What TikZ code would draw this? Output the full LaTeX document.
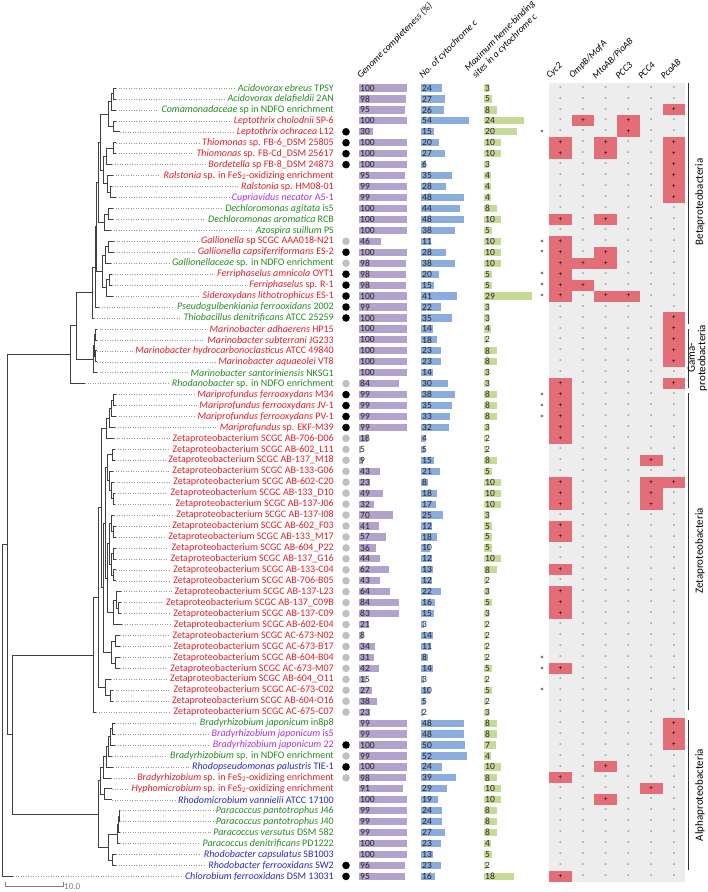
\documentclass[tikz,border=0pt]{standalone}
\usepackage{fontspec}
\setmainfont{Carlito}
\usetikzlibrary{positioning,calc}

\definecolor{tgreen}{RGB}{35,140,35}
\definecolor{tred}{RGB}{225,30,40}
\definecolor{tviolet}{RGB}{175,45,225}
\definecolor{tblue}{RGB}{40,40,205}
\definecolor{barpurple}{RGB}{178,162,206}
\definecolor{barblue}{RGB}{138,172,222}
\definecolor{bargreen}{RGB}{196,218,150}
\definecolor{cellred}{RGB}{228,110,120}
\definecolor{boxgray}{RGB}{237,237,237}
\definecolor{dotgray}{RGB}{192,192,192}

\tikzset{
  branch/.style={draw=black!75, line width=0.7pt},
  leafdot/.style={draw=black!40, dotted, line width=0.5pt},
  taxon/.style={anchor=east, inner sep=0pt, font=\fontsize{10}{10}\selectfont},
  val/.style={anchor=west, inner sep=0pt, font=\fontsize{9.5}{10}\selectfont, text=black!85},
  colhead/.style={anchor=south west, rotate=45, inner sep=0pt, font=\fontsize{9.5}{10.5}\selectfont\itshape},
  sign/.style={inner sep=0pt, font=\fontsize{7}{8}\selectfont},
  grouplab/.style={rotate=90, inner sep=0pt, font=\fontsize{11}{10.5}\selectfont, align=center},
  bracket/.style={draw=black!80, line width=0.7pt},
}

\newcommand\Y[1]{88+(#1-1)*10.95}
% join two subtrees at x, parent placed halfway between them
\newcommand\tjoin[4]{%
  \coordinate (#1m) at ($(#3)!0.5!(#4)$);
  \coordinate (#1x) at (#2,0);
  \coordinate (#1) at (#1m -| #1x);
  \draw[branch] (#3) -| (#4 -| #1) -- (#4);
}

\begin{document}
\begin{tikzpicture}[x=1pt,y=-1pt]
\useasboundingbox (0,0) rectangle (708,892);

% heading
\node[colhead] (hgc) at (362,80) {Genome completeness (\%)};
\node[colhead] (hnc) at (424,80) {No. of cytochrome c};
\node[colhead, align=left] (hmh) at (477,80) {Maximum heme-binding\\sites in a cytochrome c};
\foreach \h [count=\j] in {Cyc2,OmpB/MofA,MtoAB/PioAB,PCC3,PCC4,PcoAB}
  \node[colhead] (hc\j) at ({551+(\j-1)*22.7},80) {\h};

\fill[boxgray] (549,82.5) rectangle (685.2,882);

% rows
\foreach \i/\tp/\nm/\cl/\dt/\ga/\gb/\gc/\st/\mk in {
 1/116/{\textit{Acidovorax ebreus} TPSY}/tgreen/none/100/24/3/0/{0,0,0,0,0,0},
 2/116/{\textit{Acidovorax delafieldii} 2AN}/tgreen/none/98/27/5/0/{0,0,0,0,0,0},
 3/116/{\textit{Comamonadaceae} sp in NDFO enrichment}/tgreen/none/95/26/8/0/{0,0,0,0,0,1},
 4/116/{\textit{Leptothrix cholodnii} SP-6}/tred/none/100/54/24/0/{0,1,0,1,0,0},
 5/120/{\textit{Leptothrix ochracea} L12}/tred/black/30/15/20/1/{0,0,0,1,0,0},
 6/116/{\textit{Thiomonas} sp. FB-6\_DSM 25805}/tred/black/100/20/10/0/{1,0,1,0,0,1},
 7/116/{\textit{Thiomonas} sp. FB-Cd\_DSM 25617}/tred/black/100/27/10/0/{1,0,1,0,0,1},
 8/112/{\textit{Bordetella} sp FB-8\_DSM 24873}/tred/black/100/6/3/0/{0,0,0,0,0,1},
 9/113/{\textit{Ralstonia} sp. in FeS\textsubscript{2}-oxidizing enrichment}/tred/none/95/35/4/0/{0,0,0,0,0,1},
 10/112/{\textit{Ralstonia} sp. HM08-01}/tred/none/99/28/4/0/{0,0,0,0,0,1},
 11/116/{\textit{Cupriavidus necator} A5-1}/tviolet/none/99/48/4/0/{0,0,0,0,0,1},
 12/113/{\textit{Dechloromonas agitata} is5}/tgreen/none/100/44/8/0/{0,0,0,0,0,0},
 13/113/{\textit{Dechloromonas aromatica} RCB}/tgreen/none/100/48/10/0/{1,0,1,0,0,0},
 14/111/{\textit{Azospira suillum} PS}/tgreen/none/100/38/5/0/{0,0,0,0,0,0},
 15/114/{\textit{Gallionella} sp SCGC AAA018-N21}/tred/dotgray/46/11/10/1/{1,0,0,0,0,0},
 16/114/{\textit{Gallionella capsiferriformans} ES-2}/tred/black/100/28/10/1/{1,0,1,0,0,0},
 17/111/{\textit{Gallionellaceae} sp. in NDFO enrichment}/tgreen/dotgray/98/38/10/0/{1,1,1,0,0,0},
 18/112/{\textit{Ferriphaselus amnicola} OYT1}/tred/black/98/20/5/1/{1,0,0,0,0,0},
 19/112/{\textit{Ferriphaselus} sp. R-1}/tred/black/98/15/5/1/{1,1,0,0,0,0},
 20/113/{\textit{Sideroxydans lithotrophicus} ES-1}/tred/black/100/41/29/1/{1,0,1,1,0,0},
 21/99/{\textit{Pseudogulbenkiania ferrooxidans} 2002}/tgreen/black/99/22/3/0/{0,0,0,0,0,0},
 22/94/{\textit{Thiobacillus denitrificans} ATCC 25259}/tgreen/black/100/35/3/0/{0,0,0,0,0,1},
 23/97/{\textit{Marinobacter adhaerens} HP15}/tred/none/100/14/4/0/{0,0,0,0,0,1},
 24/97/{\textit{Marinobacter subterrani} JG233}/tred/none/100/18/2/0/{0,0,0,0,0,1},
 25/97/{\textit{Marinobacter hydrocarbonoclasticus} ATCC 49840}/tred/none/100/23/8/0/{0,0,0,0,0,1},
 26/97/{\textit{Marinobacter aquaeolei} VT8}/tred/none/100/23/8/0/{0,0,0,0,0,1},
 27/97/{\textit{Marinobacter santoriniensis} NKSG1}/tgreen/none/100/14/3/0/{0,0,0,0,0,0},
 28/85/{\textit{Rhodanobacter} sp. in NDFO enrichment}/tgreen/dotgray/84/30/3/0/{1,0,0,0,0,1},
 29/116/{\textit{Mariprofundus ferrooxydans} M34}/tred/black/99/38/8/1/{1,0,0,0,0,0},
 30/116/{\textit{Mariprofundus ferrooxydans} JV-1}/tred/black/99/35/8/1/{1,0,0,0,0,0},
 31/116/{\textit{Mariprofundus ferrooxydans} PV-1}/tred/black/99/33/8/1/{1,0,0,0,0,0},
 32/115/{\textit{Mariprofundus} sp. EKF-M39}/tred/black/99/32/3/0/{1,0,0,0,0,0},
 33/114/{Zetaproteobacterium SCGC AB-706-D06}/tred/dotgray/18/4/2/0/{1,0,0,0,0,0},
 34/115/{Zetaproteobacterium SCGC AB-602\_L11}/tred/dotgray/5/5/2/0/{0,0,0,0,0,0},
 35/115/{Zetaproteobacterium SCGC AB-137\_M18}/tred/dotgray/9/15/8/0/{0,0,0,0,1,0},
 36/113/{Zetaproteobacterium SCGC AB-133-G06}/tred/dotgray/43/21/5/0/{0,0,0,0,0,0},
 37/114/{Zetaproteobacterium SCGC AB-602-C20}/tred/dotgray/23/8/10/0/{1,0,0,0,1,1},
 38/115/{Zetaproteobacterium SCGC AB-133\_D10}/tred/dotgray/49/18/10/0/{1,0,0,0,1,0},
 39/115/{Zetaproteobacterium SCGC AB-137-J06}/tred/dotgray/32/17/10/0/{1,0,0,0,1,0},
 40/114/{Zetaproteobacterium SCGC AB-137-I08}/tred/dotgray/70/25/3/0/{0,0,0,0,0,0},
 41/116/{Zetaproteobacterium SCGC AB-602\_F03}/tred/dotgray/41/12/5/0/{1,0,0,0,0,0},
 42/116/{Zetaproteobacterium SCGC AB-133\_M17}/tred/dotgray/57/18/5/0/{1,0,0,0,0,0},
 43/116/{Zetaproteobacterium SCGC AB-604\_P22}/tred/dotgray/36/10/5/0/{0,0,0,0,0,0},
 44/116/{Zetaproteobacterium SCGC AB-137\_G16}/tred/dotgray/44/12/10/0/{0,0,0,0,0,0},
 45/116/{Zetaproteobacterium SCGC AB-133-C04}/tred/dotgray/62/13/8/0/{1,0,0,0,0,0},
 46/116/{Zetaproteobacterium SCGC AB-706-B05}/tred/dotgray/43/12/2/0/{0,0,0,0,0,0},
 47/121/{Zetaproteobacterium SCGC AB-137-L23}/tred/dotgray/64/22/3/0/{1,0,0,0,0,0},
 48/121/{Zetaproteobacterium SCGC AB-137\_C09B}/tred/dotgray/84/16/5/0/{1,0,0,0,0,0},
 49/121/{Zetaproteobacterium SCGC AB-137-C09}/tred/dotgray/83/15/3/0/{1,0,0,0,0,0},
 50/122/{Zetaproteobacterium SCGC AB-602-E04}/tred/dotgray/21/3/2/0/{0,0,0,0,0,0},
 51/120/{Zetaproteobacterium SCGC AC-673-N02}/tred/dotgray/8/14/2/0/{0,0,0,0,0,0},
 52/120/{Zetaproteobacterium SCGC AC-673-B17}/tred/dotgray/34/11/2/0/{0,0,0,0,0,0},
 53/120/{Zetaproteobacterium SCGC AB-604-B04}/tred/dotgray/31/8/2/1/{0,0,0,0,0,0},
 54/120/{Zetaproteobacterium SCGC AC-673-M07}/tred/dotgray/42/14/5/1/{1,0,0,0,0,0},
 55/111/{Zetaproteobacterium SCGC AB-604\_O11}/tred/dotgray/15/3/2/0/{0,0,0,0,0,0},
 56/113/{Zetaproteobacterium SCGC AC-673-C02}/tred/dotgray/27/10/5/1/{0,0,0,0,0,0},
 57/113/{Zetaproteobacterium SCGC AB-604-O16}/tred/dotgray/38/5/2/0/{0,0,0,0,0,0},
 58/96/{Zetaproteobacterium SCGC AC-675-C07}/tred/dotgray/23/2/3/0/{0,0,0,0,0,0},
 59/115/{\textit{Bradyrhizobium japonicum} in8p8}/tgreen/none/99/48/8/0/{0,0,0,0,0,1},
 60/115/{\textit{Bradyrhizobium japonicum} is5}/tviolet/none/99/48/8/0/{0,0,0,0,0,1},
 61/115/{\textit{Bradyrhizobium japonicum} 22}/tviolet/black/100/50/7/0/{0,0,0,0,0,1},
 62/112/{\textit{Bradyrhizobium} sp. in NDFO enrichment}/tgreen/dotgray/99/52/4/0/{0,0,0,0,0,0},
 63/113/{\textit{Rhodopseudomonas palustris} TIE-1}/tblue/black/100/24/10/0/{0,0,1,0,0,0},
 64/111/{\textit{Bradyrhizobium} sp. in FeS\textsubscript{2}-oxidizing enrichment}/tred/dotgray/98/39/8/0/{1,0,0,0,0,0},
 65/112/{\textit{Hyphomicrobium} sp. in FeS\textsubscript{2}-oxidizing enrichment}/tred/none/91/29/10/0/{0,0,0,0,1,0},
 66/112/{\textit{Rhodomicrobium vannielii} ATCC 17100}/tblue/none/100/19/10/0/{0,0,1,0,0,0},
 67/120/{\textit{Paracoccus pantotrophus} J46}/tgreen/none/99/24/8/0/{0,0,0,0,0,0},
 68/120/{\textit{Paracoccus pantotrophus} J40}/tgreen/none/99/24/8/0/{0,0,0,0,0,0},
 69/120/{\textit{Paracoccus versutus} DSM 582}/tgreen/none/99/27/8/0/{0,0,0,0,0,0},
 70/120/{\textit{Paracoccus denitrificans} PD1222}/tgreen/none/100/23/4/0/{0,0,0,0,0,0},
 71/116/{\textit{Rhodobacter capsulatus} SB1003}/tblue/none/100/13/5/0/{0,0,0,0,0,0},
 72/116/{\textit{Rhodobacter ferrooxidans} SW2}/tblue/black/96/23/2/0/{0,0,0,0,0,0},
 73/13/{\textit{Chlorobium ferrooxidans} DSM 13031}/tblue/black/95/16/18/0/{1,0,0,0,0,0}}{
  \pgfmathsetmacro\yy{\Y{\i}}
  \node[taxon, text=\cl] (tx\i) at (334,\yy) {\nm};
  \coordinate (t\i) at (\tp,\yy);
  \draw[leafdot] (t\i) -- ([xshift=-3pt]tx\i.west);
  \fill[fill=\dt] (346,\yy) circle (3.8);
  \fill[barpurple] (359,\yy-3.6) rectangle ++(\ga*0.48,7.2);
  \fill[barblue] (421,\yy-3.6) rectangle ++(\gb*0.889,7.2);
  \fill[bargreen] (484,\yy-3.6) rectangle ++(\gc*1.655,7.2);
  \node[val] (ga\i) at (360,\yy) {\ga};
  \node[val] (gb\i) at (422,\yy) {\gb};
  \node[val] (gc\i) at (485,\yy) {\gc};
  \ifnum\st=1 \node[sign, font=\fontsize{9}{9}\selectfont] (st\i) at (542,\yy+1.5) {*}; \fi
  \foreach \m [count=\j] in \mk {
    \ifnum\m=1 \fill[cellred] ({549+(\j-1)*22.7},\yy-5.475) rectangle ++(22.7,10.95); \fi
    \node[sign] at ({560.35+(\j-1)*22.7},\yy) {\ifnum\m=1 +\else -\fi};
  }
}

% tree: Betaproteobacteria
\tjoin{b1}{113}{t1}{t2}
\tjoin{b2}{111}{b1}{t3}
\tjoin{b3}{113}{t4}{t5}
\tjoin{b4}{108}{b2}{b3}
\tjoin{b5}{113}{t6}{t7}
\tjoin{b6}{106}{b5}{t8}
\tjoin{b7}{110}{t10}{t11}
\tjoin{b8}{107}{t9}{b7}
\tjoin{b9}{103}{b6}{b8}
\tjoin{b10}{100}{b4}{b9}
\tjoin{b11}{108}{t12}{t13}
\tjoin{b12}{104}{b11}{t14}
\tjoin{b13}{98}{b10}{b12}
\tjoin{b14}{108}{t15}{t16}
\tjoin{b15}{105}{b14}{t17}
\tjoin{b16}{109}{t18}{t19}
\tjoin{b17}{106}{b16}{t20}
\tjoin{b18}{102}{b15}{b17}
\tjoin{b19}{96}{b13}{b18}
\tjoin{b20}{95}{b19}{t21}
\tjoin{b21}{92}{b20}{t22}
% Marinobacter, Rhodanobacter
\tjoin{g1}{95}{t23}{t24}
\tjoin{g2}{95.5}{t25}{t26}
\tjoin{g3}{94}{g1}{g2}
\tjoin{g4}{93}{g3}{t27}
\tjoin{bg}{76}{b21}{g4}
\tjoin{bgr}{70}{bg}{t28}
% Zetaproteobacteria
\tjoin{z1}{113}{t29}{t30}
\tjoin{z2}{111}{z1}{t31}
\tjoin{z3}{109}{z2}{t32}
\tjoin{z4}{106}{z3}{t33}
\tjoin{z5}{112}{t34}{t35}
\tjoin{z6}{113}{t38}{t39}
\tjoin{z7}{111}{t37}{z6}
\tjoin{z8}{109}{t36}{z7}
\tjoin{z9}{107}{z5}{z8}
\tjoin{z10}{113}{t41}{t42}
\tjoin{z11}{111}{t40}{z10}
\tjoin{z12}{113}{t43}{t44}
\tjoin{z13}{113}{t45}{t46}
\tjoin{z14}{111}{z12}{z13}
\tjoin{z15}{109}{z11}{z14}
\tjoin{z16}{118}{t48}{t49}
\tjoin{z17}{116}{t47}{z16}
\tjoin{z18}{113}{z17}{t50}
\tjoin{z19}{107}{z15}{z18}
\tjoin{z20}{115}{t51}{t52}
\tjoin{z21}{115}{t53}{t54}
\tjoin{z22}{111}{z20}{z21}
\tjoin{z23}{110}{t56}{t57}
\tjoin{z24}{105}{t55}{z23}
\tjoin{z25}{105}{z9}{z19}
\tjoin{z26}{103}{z25}{z22}
\tjoin{z27}{101}{z4}{z26}
\tjoin{z28}{98}{z27}{z24}
\tjoin{z29}{93}{z28}{t58}
% Alphaproteobacteria
\tjoin{a1}{112}{t59}{t60}
\tjoin{a2}{110}{a1}{t61}
\tjoin{a3}{108}{a2}{t62}
\tjoin{a4}{106}{a3}{t63}
\tjoin{a5}{103}{a4}{t64}
\tjoin{a6}{104}{t65}{t66}
\tjoin{a7}{100}{a5}{a6}
\tjoin{a8}{119}{t67}{t68}
\tjoin{a9}{118.5}{a8}{t69}
\tjoin{a10}{117}{a9}{t70}
\tjoin{a11}{112}{t71}{t72}
\tjoin{a12}{108}{a10}{a11}
\tjoin{a13}{98}{a7}{a12}
% backbone
\tjoin{za}{12.7}{z29}{a13}
\tjoin{in}{7.3}{bgr}{za}
\tjoin{root}{2.7}{in}{t73}

% groups
\draw[bracket] (688,83) -- (688,324);
\draw[bracket] (688,329) -- (688,388);
\draw[bracket] (688,393) -- (688,710);
\draw[bracket] (688,720) -- (688,870);
\node[grouplab] (gbeta) at (700,202) {Betaproteobacteria};
\node[grouplab] (ggam) at (697.5,358) {Gama-\\proteobacteria};
\node[grouplab] (gzeta) at (700,551) {Zetaproteobacteria};
\node[grouplab] (galpha) at (700,795) {Alphaproteobacteria};

% scale
\draw[draw=black!50] (5,882) -- (5,886) -- (63,886) -- (63,882);
\node[anchor=west, inner sep=0pt, text=black!50, font=\fontsize{9}{10}\selectfont] (sc) at (64,887) {10.0};
\end{tikzpicture}
\end{document}
